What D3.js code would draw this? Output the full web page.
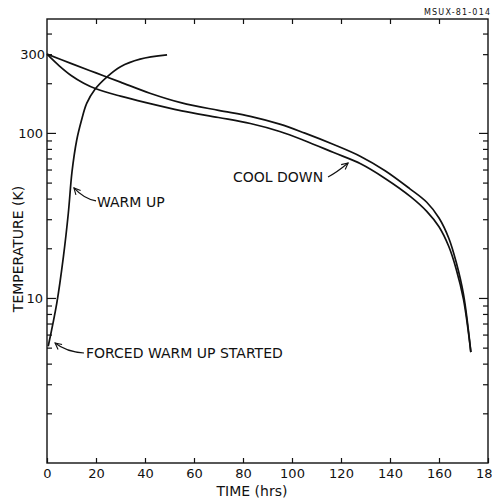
<!DOCTYPE html>
<html>
<head>
<meta charset="utf-8">
<script src="https://cdn.jsdelivr.net/npm/d3@7"></script>
<style>
  body { margin: 0; background: #fff; }
  text { font-family: "DejaVu Sans", sans-serif; fill: #111; }
</style>
</head>
<body>
<svg id="chart" width="492" height="500"></svg>
<script>
// values (time in hrs, temperature in K)
const coolUpperTime = [0, 10, 20, 30, 42, 55, 70, 83, 95, 105, 117, 128, 138, 148, 155, 160, 164, 167, 170, 173];
const coolUpperTemp = [300, 263, 231, 203, 174, 152, 137, 126, 113, 100, 85, 72, 59, 46, 38, 30.5, 23, 16.5, 10.5, 4.7];

const coolLowerTime = [0, 5, 10, 15, 20, 30, 40, 55, 70, 83, 95, 105, 117, 128, 138, 148.5, 155, 160, 164, 167, 170, 173];
const coolLowerTemp = [300, 255, 222, 200, 185, 167, 153, 136, 124, 114, 102, 90, 76, 65, 53, 41, 33.5, 27, 20.5, 15, 9.8, 4.7];

const warmTime = [0.5, 4, 6.7, 8.7, 10.2, 12.1, 14, 16.2, 19.6, 24.4, 30, 38, 49];
const warmTemp = [5.1, 9.3, 17.8, 32.6, 58, 90, 118, 151, 184, 218, 252, 280, 297];

const timeTicks = [0, 20, 40, 60, 80, 100, 120, 140, 160, 180];
const tempMajorTicks = [10, 100];
const tempMinorTicks = [2, 3, 4, 5, 6, 7, 8, 9, 20, 30, 40, 50, 60, 70, 80, 90, 200, 300, 400];

// annotations: label, text anchor point, arrow tail / bend / head
const noteLabels = ["WARM UP", "COOL DOWN", "FORCED WARM UP STARTED"];
const noteText = [[20.4, 35.6], [75.9, 50.4], [15.9, 4.33]];
const noteArrows = [
  [[20.0, 38.7], [15.1, 39.8], [11.0, 46.4]],
  [[114.7, 54.1], [118, 57.2], [122.9, 65.7]],
  [[15.1, 4.64], [7.8, 4.71], [3.3, 5.33]]
];

const plotLeft = 47, plotRight = 488, plotTop = 19, plotBottom = 463;

const svg = d3.select("#chart");
svg.append("rect").attr("width", 492).attr("height", 500).attr("fill", "#fff");

const x = d3.scaleLinear().domain([0, 180]).range([plotLeft, plotRight]);
const y = d3.scaleLog().domain([1, 490]).range([plotBottom, plotTop]);

const noLabel = d => "";

// bottom axis with labels
svg.append("g")
  .attr("transform", `translate(0,${plotBottom})`)
  .call(d3.axisBottom(x).tickValues(timeTicks).tickSize(-5).tickPadding(6).tickFormat(d3.format("d")))
  .call(g => g.select(".domain").remove());

// top axis, ticks only
svg.append("g")
  .attr("transform", `translate(0,${plotTop})`)
  .call(d3.axisTop(x).tickValues(timeTicks.slice(1, -1)).tickSize(-5).tickFormat(noLabel))
  .call(g => g.select(".domain").remove());

// left axis: minor ticks (300 labelled) and major ticks
svg.append("g")
  .attr("transform", `translate(${plotLeft},0)`)
  .call(d3.axisLeft(y).tickValues(tempMinorTicks).tickSize(-5).tickPadding(2)
    .tickFormat(d => d === 300 ? "300" : ""))
  .call(g => g.select(".domain").remove());

svg.append("g")
  .attr("transform", `translate(${plotLeft},0)`)
  .call(d3.axisLeft(y).tickValues(tempMajorTicks).tickSize(-9).tickPadding(4).tickFormat(d3.format("d")))
  .call(g => g.select(".domain").remove());

// right axis
svg.append("g")
  .attr("transform", `translate(${plotRight},0)`)
  .call(d3.axisRight(y).tickValues(tempMinorTicks).tickSize(-5).tickFormat(noLabel))
  .call(g => g.select(".domain").remove());

svg.append("g")
  .attr("transform", `translate(${plotRight},0)`)
  .call(d3.axisRight(y).tickValues(tempMajorTicks).tickSize(-9).tickFormat(noLabel))
  .call(g => g.select(".domain").remove());

svg.selectAll(".tick line").attr("stroke", "#111").attr("stroke-width", 1.2);
svg.selectAll(".tick text")
  .attr("font-family", "DejaVu Sans, sans-serif")
  .attr("font-size", 13)
  .attr("fill", "#111");

// frame
svg.append("rect")
  .attr("x", plotLeft).attr("y", plotTop)
  .attr("width", plotRight - plotLeft).attr("height", plotBottom - plotTop)
  .attr("fill", "none").attr("stroke", "#111").attr("stroke-width", 1.4);

// curves
const line = d3.line()
  .x(d => x(d[0]))
  .y(d => y(d[1]))
  .curve(d3.curveCatmullRom.alpha(0.5));

const series = [
  d3.zip(coolUpperTime, coolUpperTemp),
  d3.zip(coolLowerTime, coolLowerTemp),
  d3.zip(warmTime, warmTemp)
];

svg.selectAll(".curve")
  .data(series)
  .enter().append("path")
  .attr("class", "curve")
  .attr("d", line)
  .attr("fill", "none")
  .attr("stroke", "#111")
  .attr("stroke-width", 1.7)
  .attr("stroke-linejoin", "round");

// arrow head
svg.append("defs").append("marker")
  .attr("id", "head")
  .attr("viewBox", "0 0 10 10")
  .attr("refX", 9).attr("refY", 5)
  .attr("markerWidth", 8).attr("markerHeight", 8)
  .attr("markerUnits", "userSpaceOnUse")
  .attr("orient", "auto")
  .append("path")
  .attr("d", "M1,1 L9,5 L1,9")
  .attr("fill", "none")
  .attr("stroke", "#111")
  .attr("stroke-width", 1.4);

svg.selectAll(".arrow")
  .data(noteArrows)
  .enter().append("path")
  .attr("class", "arrow")
  .attr("d", d => {
    const p = d.map(q => [x(q[0]), y(q[1])]);
    return `M${p[0][0]},${p[0][1]} Q${p[1][0]},${p[1][1]} ${p[2][0]},${p[2][1]}`;
  })
  .attr("fill", "none")
  .attr("stroke", "#111")
  .attr("stroke-width", 1.2)
  .attr("marker-end", "url(#head)");

svg.selectAll(".note")
  .data(noteLabels)
  .enter().append("text")
  .attr("class", "note")
  .attr("x", (d, i) => x(noteText[i][0]))
  .attr("y", (d, i) => y(noteText[i][1]))
  .attr("font-size", 14)
  .text(d => d);

// axis titles
svg.append("text")
  .attr("transform", `translate(23,${(plotTop + plotBottom) / 2 + 8}) rotate(-90)`)
  .attr("text-anchor", "middle")
  .attr("font-size", 14)
  .text("TEMPERATURE (K)");

svg.append("text")
  .attr("x", 252)
  .attr("y", 496)
  .attr("text-anchor", "middle")
  .attr("font-size", 14)
  .text("TIME (hrs)");

// figure number
svg.append("text")
  .attr("x", 490)
  .attr("y", 15)
  .attr("text-anchor", "end")
  .attr("font-size", 8)
  .attr("textLength", 66)
  .attr("lengthAdjust", "spacing")
  .text("MSUX-81-014");
</script>
</body>
</html>
